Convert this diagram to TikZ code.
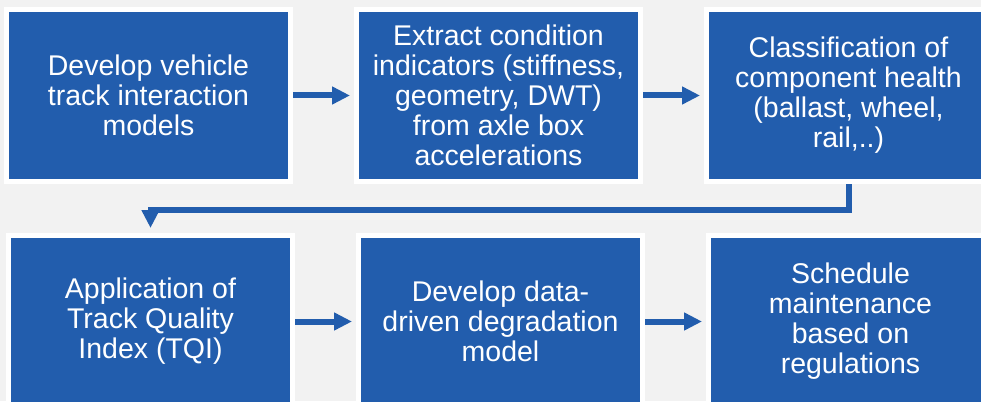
\documentclass[tikz,border=0pt]{standalone}
\usepackage{fontspec}
\setmainfont{Liberation Sans}
\usetikzlibrary{positioning, arrows.meta}
\definecolor{stepblue}{HTML}{225DAD}
\definecolor{pagegray}{HTML}{F2F2F2}
\tikzset{
    stepbox/.style={
        draw=white,
        line width=5pt,
        fill=stepblue,
        text=white,
        align=center,
        minimum width=284pt,
        minimum height=172pt,
        inner sep=0pt,
        font=\fontsize{28.5pt}{30pt}\selectfont
    },
    flow/.style={
        draw=stepblue,
        line width=6pt,
        -{Triangle[length=18pt,width=17pt]}
    }
}

\begin{document}
\begin{tikzpicture}[node distance = 49pt and 61pt]
\useasboundingbox (0,0) rectangle (981pt,-401pt);
\clip (0,0) rectangle (981pt,-401pt);
\fill[pagegray] (0,0) rectangle (981pt,-401pt);

\node[stepbox] (model) at (148.5pt,-95.5pt) {Develop vehicle\\track interaction\\models};
\node[stepbox, right=of model]   (extract)  {Extract condition\\indicators (stiffness,\\geometry, DWT)\\from axle box\\accelerations};
\node[stepbox, right=of extract] (classify) {Classification of\\component health\\(ballast, wheel,\\rail,..)};
\node[stepbox, below=of model, xshift=2pt] (tqi)      {Application of\\Track Quality\\Index (TQI)};
\node[stepbox, right=of tqi]     (degrade)  {Develop data-\\driven degradation\\model};
\node[stepbox, right=of degrade] (schedule) {Schedule\\maintenance\\based on\\regulations};

\draw[flow, shorten >=4pt] (model) -- (extract);
\draw[flow, shorten >=4pt] (extract) -- (classify);
\draw[flow, shorten >=5pt] (classify.south) |- ([yshift=-26pt]classify.south) -| (tqi.north);
\draw[flow, shorten >=4pt] (tqi) -- (degrade);
\draw[flow, shorten >=4pt] (degrade) -- (schedule);
\end{tikzpicture}
\end{document}
